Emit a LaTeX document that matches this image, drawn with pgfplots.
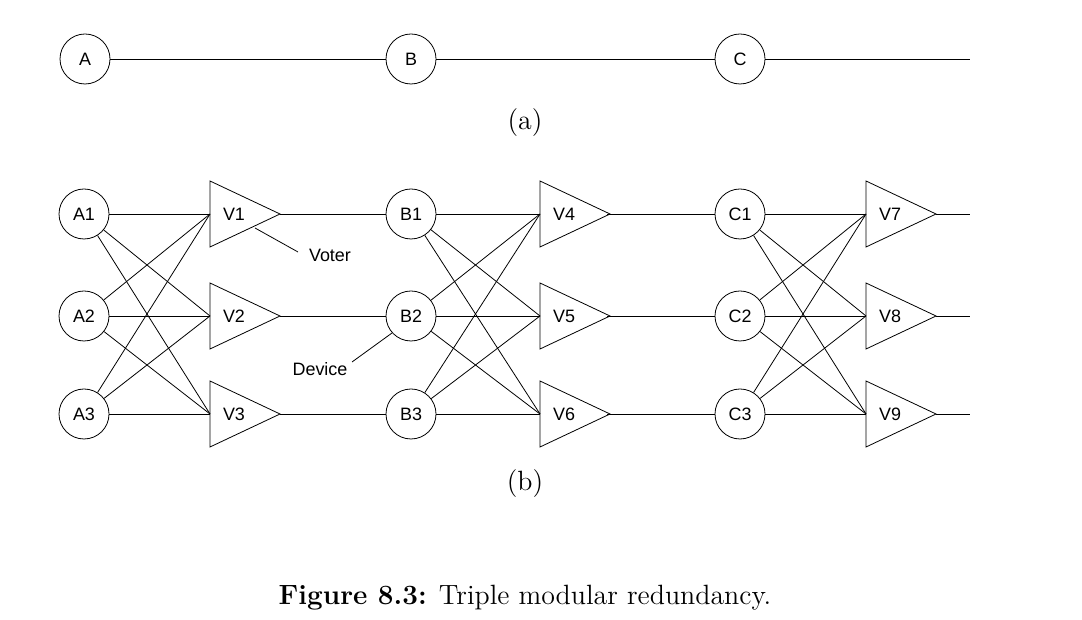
\documentclass[border=0pt]{standalone}
\usepackage{pgfplots}
\pgfplotsset{compat=1.18}
\usepackage{fontspec}
\newfontfamily\sans{Liberation Sans}
\begin{document}
\begin{tikzpicture}
\begin{axis}[x=0.5bp,y=-0.5bp,xmin=0,xmax=1082,ymin=0,ymax=619,axis lines=none,clip=false,scale only axis]
\addplot[draw=none] coordinates {(0,0) (1082,619)};
\coordinate (O) at (axis cs:0,0);
\end{axis}
\begin{scope}[shift={(O)},x=0.5bp,y=-0.5bp]
\tikzset{dev/.style={circle,draw,minimum size=25bp,inner sep=0pt,font=\sans\fontsize{9}{10}\selectfont}}
\node[dev] (A) at (85,59) {A};
\node[dev] (B) at (411,59) {B};
\node[dev] (C) at (740,59) {C};
\draw (A) -- (B); \draw (B) -- (C); \draw (C) -- (970,59);
\node[font=\fontsize{14}{16}\selectfont] at (525,123) {(a)};
\foreach \g/\cx/\vx/\n in {A/84/210/0,B/411/540/3,C/740/866/6}{
  \foreach \i/\y in {1/214,2/316,3/414}{
    \node[dev] (\g\i) at (\cx,\y) {\g\i};
  }
  \foreach \j/\y in {1/214,2/316,3/414}{
    \pgfmathtruncatemacro{\v}{\n+\j}
    \draw (\vx,\y-33) -- (\vx+70,\y) -- (\vx,\y+33) -- cycle;
    \node[font=\sans\fontsize{9}{10}\selectfont] at (\vx+24,\y) {V\v};
    \foreach \i in {1,2,3}{ \draw (\g\i) -- (\vx,\y); }
  }
}
\foreach \y in {214,316,414}{
  \draw (280,\y) -- (386,\y);
  \draw (607,\y) -- (715,\y);
  \draw (936,\y) -- (970,\y);
}
\draw (255,228) -- (298,252);
\node[font=\sans\fontsize{9}{10}\selectfont,anchor=west] at (302,255) {Voter};
\draw (392,333) -- (352,362);
\node[font=\sans\fontsize{9}{10}\selectfont] at (320,369) {Device};
\node[font=\fontsize{14}{16}\selectfont] at (525,484) {(b)};
\node[font=\fontsize{14}{16}\selectfont] at (525,598) {\textbf{Figure 8.3:} Triple modular redundancy.};
\end{scope}
\end{tikzpicture}
\end{document}
